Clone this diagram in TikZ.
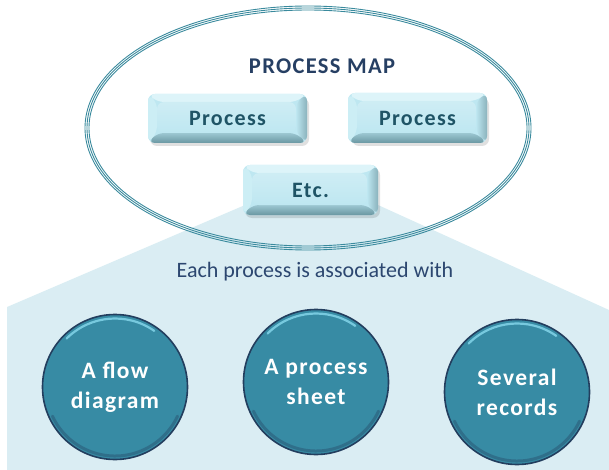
\documentclass[tikz,border=0pt]{standalone}
\usepackage{fontspec}
\setmainfont{Carlito}
\newfontfamily\spacedA[LetterSpace=6]{Carlito}
\newfontfamily\spacedB[LetterSpace=6]{Carlito}
\usetikzlibrary{calc}
\definecolor{bgblue}{HTML}{DAEDF3}
\definecolor{ringcol}{HTML}{3A8A9D}
\definecolor{titlecol}{HTML}{263F63}
\definecolor{boxtext}{HTML}{1F5466}
\definecolor{bevtop}{HTML}{DDF4F9}
\definecolor{bevleft}{HTML}{CCEEF5}
\definecolor{bevright}{HTML}{8AB2BC}
\definecolor{bevbot}{HTML}{6A97A2}
\definecolor{boxin}{HTML}{BEE7F1}
\definecolor{circfill}{HTML}{378BA4}
\definecolor{circedge}{HTML}{233E5E}
\definecolor{circhi}{HTML}{7ED0E5}
\definecolor{eachcol}{HTML}{2C4770}
\tikzset{
  procbox/.style={rounded corners=7pt, fill=boxin,
    font=\spacedA\bfseries\fontsize{22}{24}\selectfont, text=boxtext,
    path picture={
      \coordinate (bnw) at (path picture bounding box.north west);
      \coordinate (bse) at (path picture bounding box.south east);
      \coordinate (bne) at (path picture bounding box.north east);
      \coordinate (bsw) at (path picture bounding box.south west);
      \coordinate (inw) at ([shift={(9pt,-8pt)}]bnw);
      \coordinate (ine) at ([shift={(-11pt,-8pt)}]bne);
      \coordinate (ise) at ([shift={(-11pt,10pt)}]bse);
      \coordinate (isw) at ([shift={(9pt,10pt)}]bsw);
      \fill[bevtop] (bnw) -- (bne) -- (ine) -- (inw) -- cycle;
      \fill[bevleft] (bnw) -- (inw) -- (isw) -- (bsw) -- cycle;
      \shade[left color=boxin, right color=bevright] (bne) -- (bse) -- (ise) -- (ine) -- cycle;
      \shade[top color=boxin!60!bevbot, bottom color=bevbot] (bsw) -- (isw) -- (ise) -- (bse) -- cycle;
      \shade[top color=boxin!75!white, bottom color=boxin] (inw) rectangle (ise);}},
  boxshadow/.style={rounded corners=7pt, fill=black, opacity=0.12},
  circnode/.style={circle, minimum size=145pt, inner sep=0pt, fill=circfill,
    draw=circedge, line width=1.6pt, text=white, align=center,
    font=\spacedB\bfseries\fontsize{23.5}{30}\selectfont,
    path picture={\draw[circhi, line width=2.2pt, line cap=round, opacity=0.9]
      ([shift={(135:68.5pt)}]path picture bounding box.center)
      arc[start angle=135, end angle=55, radius=68.5pt];
      \draw[circedge!60!circfill, line width=3pt, line cap=round, opacity=0.6]
      ([shift={(-155:69pt)}]path picture bounding box.center)
      arc[start angle=-155, end angle=-25, radius=69pt];}},
  ring/.style={draw=ringcol, line width=0.9pt}
}
\begin{document}
\begin{tikzpicture}[x=1pt, y=-1pt]
\useasboundingbox (0,0) rectangle (609,470);
% background fan
\fill[bgblue] (7,470) -- (7,307) -- (245,205) -- (378,205) -- (609,310) -- (609,470) -- cycle;
% triple ellipse
\coordinate (ec) at (308,128);
\draw[ring] (ec) ellipse [x radius=223pt, y radius=122pt];
\draw[ring] (ec) ellipse [x radius=221pt, y radius=120pt];
\draw[ring] (ec) ellipse [x radius=219pt, y radius=118pt];
% title
\node[text=titlecol, font=\spacedA\bfseries\fontsize{22.5}{24}\selectfont] (title) at (322,66) {PROCESS MAP};
% shadows
\fill[boxshadow] (150,98) rectangle (309,146);
\fill[boxshadow] (352,98) rectangle (489,146);
\fill[boxshadow] (245,168) rectangle (380,218);
% process boxes
\node[procbox, minimum width=159pt, minimum height=49pt] (p1) at (227.5,118.5) {Process};
\node[procbox, minimum width=139pt, minimum height=50pt] (p2) at (417.5,118) {Process};
\node[procbox, minimum width=135pt, minimum height=50pt] (etc) at (310.5,190) {Etc.};
% caption
\node[text=eachcol, font=\fontsize{22}{24}\selectfont] (each) at (315,272) {Each process is associated with};
% circles
\node[circnode] (c1) at (115,387) {A flow\\diagram};
\node[circnode] (c2) at (316,382) {A process\\sheet};
\node[circnode] (c3) at (517,392) {Several\\records};
\end{tikzpicture}
\end{document}
